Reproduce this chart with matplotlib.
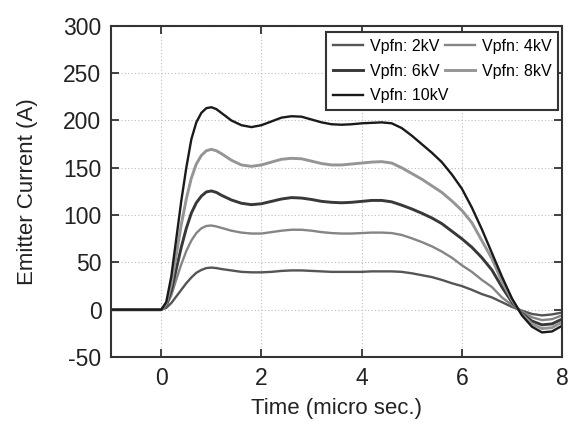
import matplotlib
matplotlib.use("Agg")
import matplotlib.pyplot as plt

plt.rcParams['font.family'] = ['Liberation Sans', 'DejaVu Sans']
plt.rcParams['axes.unicode_minus'] = False

# Time axis (micro sec.)
t = [-1, -0.5, 0, 0.1, 0.2, 0.3, 0.4, 0.5, 0.6, 0.7, 0.8, 0.9, 1.0, 1.1, 1.2,
     1.4, 1.6, 1.8, 2.0, 2.2, 2.4, 2.6, 2.8, 3.0, 3.2, 3.4, 3.6, 3.8, 4.0,
     4.2, 4.4, 4.6, 4.8, 5.0, 5.2, 5.4, 5.6, 5.8, 6.0, 6.2, 6.4, 6.6, 6.8,
     7.0, 7.2, 7.4, 7.6, 7.8, 8.0]

i_2kv = [0, 0, 0, 2, 7, 14, 21, 28, 34, 39, 42, 44, 44.5, 44, 43,
         41.5, 40, 39.5, 39.5, 40, 41, 41.5, 41.5, 41, 40.5, 40, 40, 40, 40,
         40.5, 40.5, 40.5, 40, 38.5, 36.5, 34.5, 31.5, 28, 25, 21, 16.5, 13, 8,
         3, -1, -4.5, -6, -5, -3]

i_4kv = [0, 0, 0, 4, 15, 32, 48, 62, 73, 81, 86, 88.5, 89, 88, 86.5,
         83.5, 81.5, 80.5, 80.5, 82, 83.5, 84.5, 84.5, 83.5, 82, 81, 80.5, 80.5, 81,
         81.5, 81.5, 81, 79, 75.5, 71.5, 67, 61.5, 55, 47, 40, 31.5, 24, 13,
         5, -2, -8, -11, -10, -6]

i_6kv = [0, 0, 0, 5, 20, 43, 66, 86, 102, 113, 120, 124.5, 125.5, 124, 121,
         116, 112.5, 111, 112, 114.5, 117, 118.5, 118, 116.5, 114.5, 113.5, 113, 113.5, 114.5,
         115.5, 115.5, 114, 110.5, 106.5, 102, 97, 91, 83, 75, 66, 55, 42, 24,
         8, -4, -12, -16, -15, -10]

i_8kv = [0, 0, 0, 6, 27, 58, 90, 117, 139, 154, 163, 168, 169.5, 168, 165,
         158, 153, 151.5, 153, 156, 159, 160, 159.5, 157, 154.5, 153, 153, 154, 155,
         156, 156.5, 155, 150, 144, 138, 131, 124, 115, 105, 92, 73, 54, 30,
         10, -5, -15, -20, -19, -13]

i_10kv = [0, 0, 0, 8, 35, 75, 115, 150, 180, 198, 208, 213, 214, 212, 208,
          200, 195, 193, 195, 199, 203, 204.5, 204, 201, 198, 196, 195.5, 196, 197,
          197.5, 198, 197, 192, 184, 175, 166, 156, 143, 128, 108, 85, 60, 35,
          12, -6, -18, -24, -23, -17]

labels = ['Vpfn: 2kV', 'Vpfn: 4kV', 'Vpfn: 6kV', 'Vpfn: 8kV', 'Vpfn: 10kV']
series = [i_2kv, i_4kv, i_6kv, i_8kv, i_10kv]
colors = ['#555555', '#858585', '#383838', '#959595', '#1a1a1a']
widths = [1.7, 1.7, 2.1, 2.1, 1.7]

x_ticks = [0, 2, 4, 6, 8]
y_ticks = [-50, 0, 50, 100, 150, 200, 250, 300]

fig = plt.figure(figsize=(5.7, 4.24), dpi=100)
ax = fig.add_axes([0.195, 0.158, 0.791, 0.781])

handles = []
for y, lab, c, w in zip(series, labels, colors, widths):
    h, = ax.plot(t, y, color=c, lw=w, label=lab)
    handles.append(h)

ax.set_xlim(-1, 8)
ax.set_ylim(-50, 300)
ax.set_xticks(x_ticks)
ax.set_yticks(y_ticks)
ax.grid(True, linestyle=(0, (1, 2)), color='#bdbdbd', linewidth=0.8)
ax.tick_params(direction='in', top=True, right=True, length=6, width=1.3,
               labelsize=16.5, color='#333333', labelcolor='#222222', pad=7)
for s in ax.spines.values():
    s.set_linewidth(1.5)
    s.set_color('#333333')

ax.set_xlabel('Time (micro sec.)', fontsize=16, color='#222222', labelpad=6)
ax.set_ylabel('Emitter Current (A)', fontsize=16, color='#222222', labelpad=18)

# row-wise legend order: (2kV, 4kV), (6kV, 8kV), (10kV)
order = [0, 2, 4, 1, 3]
leg = ax.legend([handles[k] for k in order], [labels[k] for k in order],
                ncol=2, loc='upper right', bbox_to_anchor=(0.992, 0.982),
                borderaxespad=0, fontsize=11.5, fancybox=False, framealpha=1,
                handlelength=1.9, handletextpad=0.4, columnspacing=-0.2,
                labelspacing=0.6, borderpad=0.45)
leg.get_frame().set_edgecolor('#333333')
leg.get_frame().set_linewidth(1.5)

fig.savefig('out.png', dpi=100)
